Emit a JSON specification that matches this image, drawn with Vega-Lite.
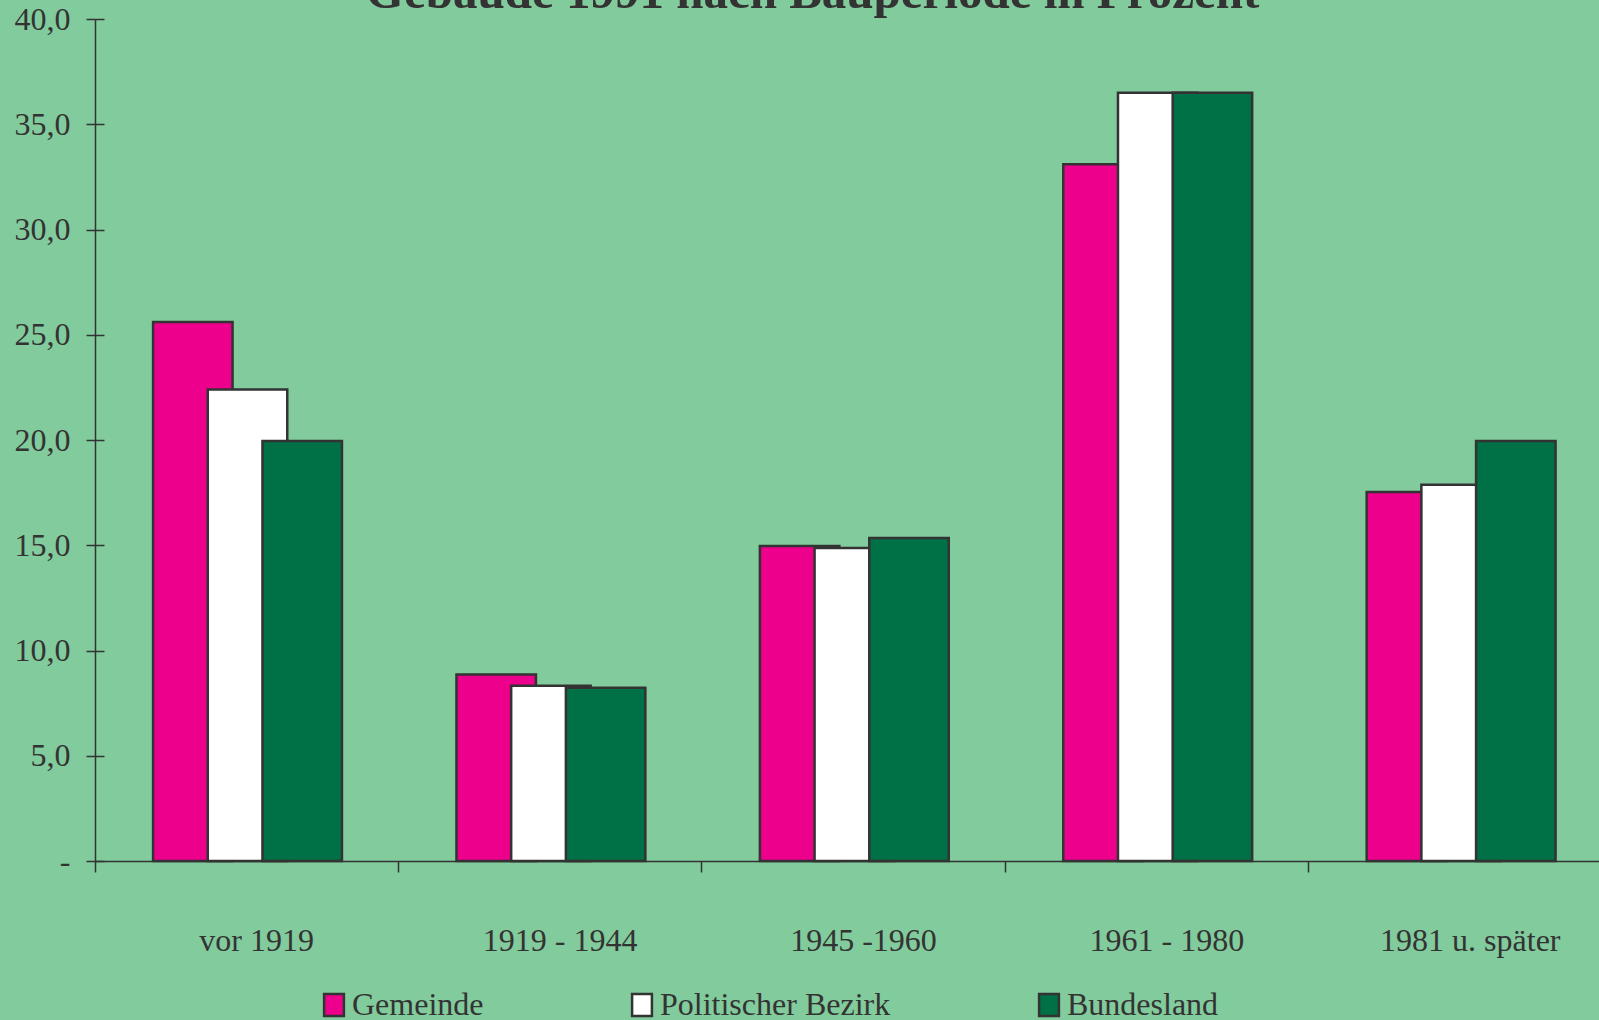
{
  "$schema": "https://vega.github.io/schema/vega-lite/v6.json",
  "width": 1504,
  "height": 842,
  "autosize": {"type": "none"},
  "padding": {"left": 95, "top": 19, "right": 0, "bottom": 159},
  "background": "#82CB9C",
  "config": {"view": {"stroke": null}, "font": "Liberation Serif"},
  "data": {
    "values": [
      {"periode": "vor 1919", "ebene": "Gemeinde", "wert": 25.6},
      {"periode": "vor 1919", "ebene": "Politischer Bezirk", "wert": 22.4},
      {"periode": "vor 1919", "ebene": "Bundesland", "wert": 19.95},
      {"periode": "1919 - 1944", "ebene": "Gemeinde", "wert": 8.86},
      {"periode": "1919 - 1944", "ebene": "Politischer Bezirk", "wert": 8.33},
      {"periode": "1919 - 1944", "ebene": "Bundesland", "wert": 8.23},
      {"periode": "1945 -1960", "ebene": "Gemeinde", "wert": 14.96},
      {"periode": "1945 -1960", "ebene": "Politischer Bezirk", "wert": 14.87},
      {"periode": "1945 -1960", "ebene": "Bundesland", "wert": 15.35},
      {"periode": "1961 - 1980", "ebene": "Gemeinde", "wert": 33.1},
      {"periode": "1961 - 1980", "ebene": "Politischer Bezirk", "wert": 36.5},
      {"periode": "1961 - 1980", "ebene": "Bundesland", "wert": 36.5},
      {"periode": "1981 u. später", "ebene": "Gemeinde", "wert": 17.53},
      {"periode": "1981 u. später", "ebene": "Politischer Bezirk", "wert": 17.87},
      {"periode": "1981 u. später", "ebene": "Bundesland", "wert": 19.95}
    ]
  },
  "resolve": {"axis": {"x": "independent", "y": "independent"}},
  "layer": [
    {
      "mark": {"type": "bar", "stroke": "#333333", "strokeWidth": 2.5, "width": {"band": 1.453}},
      "encoding": {
        "x": {
          "field": "periode",
          "type": "nominal",
          "sort": null,
          "scale": {"range": [0, 1517], "paddingInner": 0, "paddingOuter": 0},
          "axis": {
            "title": null,
            "orient": "bottom",
            "bandPosition": 0,
            "labelAngle": 0,
            "tickSize": 11,
            "tickWidth": 1.5,
            "tickColor": "#333333",
            "domainColor": "#333333",
            "domainWidth": 1.5,
            "labelFontSize": 32,
            "labelColor": "#333333",
            "labelFont": "Liberation Serif",
            "labelBaseline": "alphabetic",
            "labelPadding": 78,
            "labelOffset": 10,
            "labelLimit": 0
          }
        },
        "xOffset": {
          "field": "ebene",
          "type": "nominal",
          "sort": ["Gemeinde", "Politischer Bezirk", "Bundesland"],
          "scale": {"range": [126.8, 290.9], "paddingInner": 0, "paddingOuter": 0}
        },
        "y": {
          "field": "wert",
          "type": "quantitative",
          "scale": {"domain": [0, 40], "nice": false},
          "axis": {
            "title": null,
            "grid": false,
            "values": [0, 5, 10, 15, 20, 25, 30, 35, 40],
            "labelExpr": "datum.value == 0 ? '-' : replace(format(datum.value, '.1f'), '.', ',')",
            "tickSize": 9,
            "tickWidth": 1.5,
            "tickColor": "#333333",
            "domainColor": "#333333",
            "domainWidth": 1.5,
            "labelFontSize": 32,
            "labelColor": "#333333",
            "labelFont": "Liberation Serif",
            "labelPadding": 16
          }
        },
        "color": {
          "field": "ebene",
          "type": "nominal",
          "sort": ["Gemeinde", "Politischer Bezirk", "Bundesland"],
          "scale": {
            "domain": ["Gemeinde", "Politischer Bezirk", "Bundesland"],
            "range": ["#EC008C", "#FFFFFF", "#007046"]
          },
          "legend": {
            "title": null,
            "orient": "none",
            "legendX": 223,
            "legendY": 970,
            "direction": "horizontal",
            "columnPadding": 142,
            "symbolType": "M-0.9,-1H0.9V1H-0.9Z",
            "symbolSize": 484,
            "symbolStrokeColor": "#333333",
            "symbolStrokeWidth": 2.5,
            "symbolOpacity": 1,
            "labelFontSize": 32,
            "labelColor": "#333333",
            "labelFont": "Liberation Serif",
            "labelOffset": 2,
            "labelLimit": 0
          }
        }
      }
    },
    {
      "mark": {"type": "bar", "opacity": 0},
      "encoding": {
        "x": {
          "field": "periode",
          "type": "nominal",
          "sort": null,
          "axis": {
            "orient": "top",
            "title": "Gebäude 1991 nach Bauperiode in Prozent",
            "titleFont": "Liberation Serif",
            "titleFontSize": 49,
            "titleFontWeight": "bold",
            "titleColor": "#333333",
            "titleAlign": "center",
            "titleBaseline": "alphabetic",
            "titleX": 717,
            "titleY": -12,
            "titleLimit": 0,
            "domain": false,
            "ticks": false,
            "labels": false,
            "grid": false
          }
        },
        "y": {
          "field": "wert",
          "type": "quantitative",
          "scale": {"domain": [0, 40], "nice": false},
          "axis": {
            "orient": "left",
            "offset": -9,
            "title": null,
            "grid": false,
            "domain": false,
            "labels": false,
            "values": [0, 5, 10, 15, 20, 25, 30, 35, 40],
            "tickSize": 9,
            "tickWidth": 1.5,
            "tickColor": "#333333"
          }
        }
      }
    }
  ]
}
